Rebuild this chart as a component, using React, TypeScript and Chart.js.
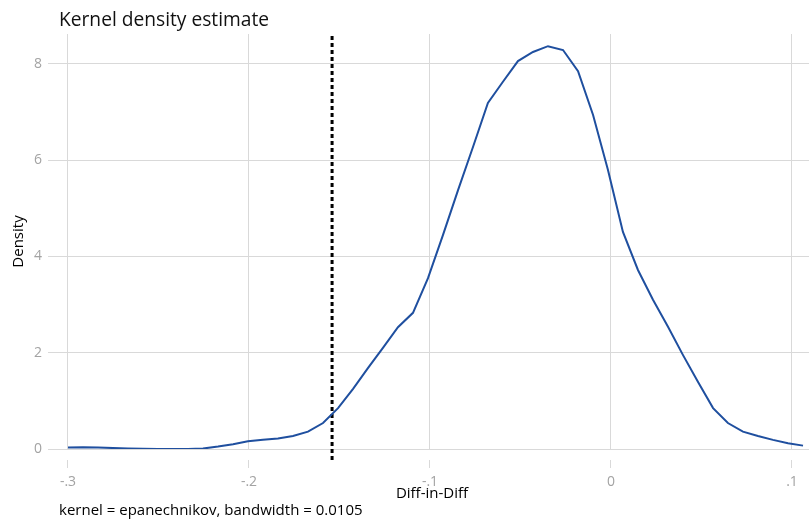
import React, { useEffect, useRef } from "react";
import { Chart, registerables } from "chart.js";

Chart.register(...registerables);

const TITLE = "Kernel density estimate";
const NOTE = "kernel = epanechnikov, bandwidth = 0.0105";
const X_TITLE = "Diff-in-Diff";
const Y_TITLE = "Density";

const X_VALUES = [
  -0.3, -0.2917, -0.2834, -0.2751, -0.2669, -0.2586, -0.2503, -0.242, -0.2337, -0.2254,
  -0.2171, -0.2088, -0.2006, -0.1923, -0.184, -0.1757, -0.1674, -0.1591, -0.1508, -0.1425,
  -0.1343, -0.126, -0.1177, -0.1094, -0.1011, -0.0928, -0.0845, -0.0762, -0.068, -0.0597,
  -0.0514, -0.0431, -0.0348, -0.0265, -0.0182, -0.0099, -0.0017, 0.0066, 0.0149, 0.0232,
  0.0315, 0.0398, 0.0481, 0.0564, 0.0646, 0.0729, 0.0812, 0.0895, 0.0978, 0.1061,
];
const DENSITY = [
  0.03, 0.035, 0.03, 0.02, 0.01, 0.005, 0.0, 0.0, 0.0, 0.01,
  0.05, 0.1, 0.16, 0.19, 0.22, 0.27, 0.36, 0.54, 0.85, 1.25,
  1.68, 2.1, 2.53, 2.83, 3.55, 4.45, 5.38, 6.28, 7.19, 7.63,
  8.06, 8.25, 8.37, 8.29, 7.85, 6.94, 5.8, 4.51, 3.72, 3.1,
  2.54, 1.95, 1.39, 0.85, 0.54, 0.36, 0.27, 0.19, 0.12, 0.07,
];

const THRESHOLD = -0.1541;
const THRESHOLD_Y = [-0.23, 8.62];

const X_TICKS = [-0.3, -0.2, -0.1, 0, 0.1];
const X_TICK_LABELS = ["-.3", "-.2", "-.1", "0", ".1"];
const Y_TICKS = [0, 2, 4, 6, 8];
const Y_TICK_LABELS = ["0", "2", "4", "6", "8"];

const X_MIN = -0.30718;
const X_MAX = 0.1094;
const Y_MIN = 0;
const Y_MAX = 8.623;

const FONT = "'Open Sans', 'Noto Sans', sans-serif";
const GRID = "#d9d9d9";
const TICK_TEXT = "#a3a3a3";
const LINE_COLOR = "#1f4f9f";

const textPlugin = {
  id: "textPlugin",
  afterDraw(chart: any) {
    const ctx = chart.ctx;
    ctx.save();
    ctx.fillStyle = "#111";
    ctx.textAlign = "left";
    ctx.textBaseline = "alphabetic";
    ctx.font = `19.2px ${FONT}`;
    ctx.fillText(TITLE, 59, 26);
    ctx.fillStyle = "#000";
    ctx.font = `15px ${FONT}`;
    ctx.fillText(NOTE, 59, 515);
    ctx.restore();
  },
};

export default function App() {
  const ref = useRef<HTMLCanvasElement | null>(null);

  useEffect(() => {
    document.body.style.margin = "0";
    const canvas = ref.current;
    if (!canvas) return;
    const chart = new Chart(canvas, {
      type: "line",
      data: {
        datasets: [
          {
            label: "density",
            data: X_VALUES.map((x, i) => ({ x, y: DENSITY[i] })),
            borderColor: LINE_COLOR,
            borderWidth: 2,
            pointRadius: 0,
            tension: 0,
            fill: false,
          },
          {
            label: "threshold",
            data: THRESHOLD_Y.map((y) => ({ x: THRESHOLD, y })),
            borderColor: "#000",
            borderWidth: 3,
            borderDash: [4, 3],
            pointRadius: 0,
            fill: false,
            clip: false as any,
          },
        ],
      },
      options: {
        animation: false,
        responsive: true,
        maintainAspectRatio: false,
        layout: { padding: { top: 34, left: 0, right: 0, bottom: 0 } },
        plugins: {
          legend: { display: false },
          tooltip: { enabled: false },
          title: { display: false },
        },
        scales: {
          x: {
            type: "linear",
            position: "bottom",
            min: X_MIN,
            max: X_MAX,
            afterBuildTicks: (s: any) => {
              s.ticks = X_TICKS.map((v) => ({ value: v }));
            },
            afterFit: (s: any) => {
              s.height = 83;
            },
            ticks: {
              autoSkip: false,
              maxRotation: 0,
              color: TICK_TEXT,
              padding: 6,
              font: { family: FONT, size: 14 },
              callback: (_v: any, i: number) => X_TICK_LABELS[i],
            },
            grid: {
              color: GRID,
              lineWidth: 1,
              drawTicks: true,
              tickLength: 19,
              tickColor: GRID,
              tickBorderDash: [0, 11, 8, 100],
            },
            border: { display: false },
            title: {
              display: true,
              text: X_TITLE,
              color: "#000",
              font: { family: FONT, size: 15 },
              padding: { top: 0, bottom: 29 },
            },
          },
          y: {
            type: "linear",
            min: Y_MIN,
            max: Y_MAX,
            afterBuildTicks: (s: any) => {
              s.ticks = Y_TICKS.map((v) => ({ value: v }));
            },
            afterFit: (s: any) => {
              s.width = 55;
            },
            ticks: {
              color: TICK_TEXT,
              padding: 6,
              font: { family: FONT, size: 14 },
              callback: (_v: any, i: number) => Y_TICK_LABELS[i],
            },
            grid: {
              color: GRID,
              lineWidth: 1,
              drawTicks: true,
              tickLength: 7,
              tickColor: GRID,
            },
            border: { display: false },
            title: {
              display: true,
              text: Y_TITLE,
              color: "#000",
              font: { family: FONT, size: 15 },
              padding: { top: 10, bottom: 0 },
            },
          },
        },
      } as any,
      plugins: [textPlugin],
    });
    return () => chart.destroy();
  }, []);

  return (
    <div style={{ position: "fixed", left: 0, top: 0, width: 809, height: 532 }}>
      <canvas ref={ref} width={809} height={532} />
    </div>
  );
}
